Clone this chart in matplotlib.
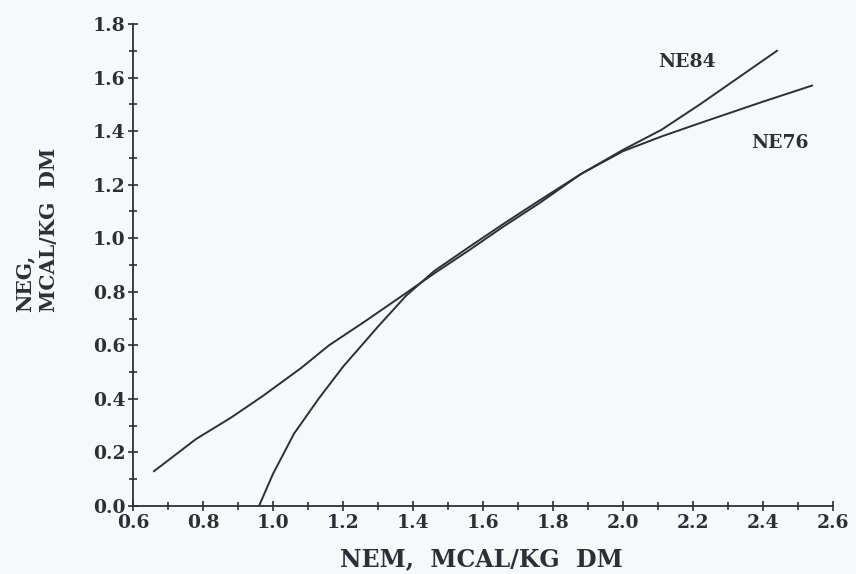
import numpy as np
import matplotlib
matplotlib.use('Agg')
import matplotlib.pyplot as plt
from matplotlib.ticker import MultipleLocator


# NEM (Mcal/kg DM) vs NEG
ne76_nem = [0.66, 0.78, 0.88, 0.97, 1.08, 1.16, 1.26, 1.36, 1.46, 1.56, 1.66,
            1.76, 1.88, 2.00, 2.11, 2.22, 2.40, 2.54]
ne76_neg = [0.13, 0.25, 0.33, 0.41, 0.515, 0.60, 0.687, 0.777, 0.868, 0.955,
            1.045, 1.13, 1.24, 1.325, 1.38, 1.43, 1.51, 1.57]

ne84_nem = [0.96, 1.00, 1.06, 1.13, 1.20, 1.30, 1.38, 1.46, 1.56, 1.66, 1.76,
            1.88, 2.00, 2.11, 2.22, 2.33, 2.44]
ne84_neg = [0.0, 0.12, 0.27, 0.40, 0.52, 0.67, 0.785, 0.877, 0.967, 1.055,
            1.14, 1.24, 1.33, 1.405, 1.50, 1.60, 1.70]

INK = '#2b3038'
BG = '#f7f8fa'


def main():
    plt.rcParams['font.family'] = 'DejaVu Serif'
    plt.rcParams['font.weight'] = 'bold'

    fig = plt.figure(figsize=(8.56, 5.74), dpi=100, facecolor=BG)
    ax = fig.add_axes([133 / 856, 1 - 506 / 574, 700 / 856, 482 / 574])
    ax.set_facecolor(BG)

    ax.plot(ne76_nem, ne76_neg, color=INK, lw=1.4)
    ax.plot(ne84_nem, ne84_neg, color=INK, lw=1.4)

    ax.text(2.183, 1.658, 'NE84', color=INK, fontsize=13.5, ha='center', va='center')
    ax.text(2.449, 1.356, 'NE76', color=INK, fontsize=13.5, ha='center', va='center')

    ax.set_xlim(0.6, 2.6)
    ax.set_ylim(0.0, 1.8)
    ax.xaxis.set_major_locator(MultipleLocator(0.2))
    ax.xaxis.set_minor_locator(MultipleLocator(0.1))
    ax.yaxis.set_major_locator(MultipleLocator(0.2))
    ax.yaxis.set_minor_locator(MultipleLocator(0.1))
    ax.xaxis.set_major_formatter(lambda v, p: f'{v:.1f}')
    ax.yaxis.set_major_formatter(lambda v, p: f'{v:.1f}')

    for s in ('top', 'right'):
        ax.spines[s].set_visible(False)
    for s in ('left', 'bottom'):
        ax.spines[s].set_color(INK)
        ax.spines[s].set_linewidth(1.3)

    ax.tick_params(which='major', direction='inout', length=7, width=1.2,
                   color=INK, labelcolor=INK, labelsize=13.5, pad=2)
    ax.tick_params(which='minor', direction='inout', length=6, width=1.2,
                   color=INK)

    fig.text(481 / 856, 1 - 559 / 574, 'NEM,  MCAL/KG  DM', color=INK,
             fontsize=17, ha='center', va='center')
    fig.text(37 / 856, 1 - 312 / 574, 'NEG,\nMCAL/KG  DM', color=INK,
             fontsize=14.5, rotation=90, ha='center', va='bottom',
             multialignment='left', linespacing=1.3)

    fig.savefig('out.png', dpi=100, facecolor=BG)


if __name__ == '__main__':
    main()
